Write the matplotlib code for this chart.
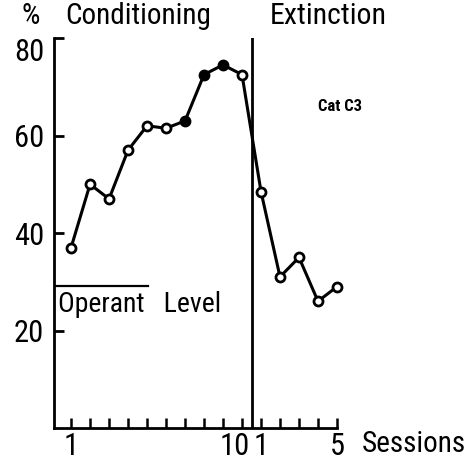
import numpy as np
import matplotlib
matplotlib.use("Agg")
import matplotlib.pyplot as plt
from matplotlib.transforms import ScaledTranslation

# Daten: Konditionierung (10 Sitzungen) und Extinktion (5 Sitzungen)
cond_sessions = np.arange(1, 11)
cond_pct = [37, 50, 47, 57, 62, 61.5, 63, 72.5, 74.5, 72.5]
cond_filled = [False, False, False, False, False, False, True, True, True, False]
ext_sessions = np.arange(1, 6)
ext_pct = [48.5, 31, 35, 26, 29]
operant_level = 29.2
yticks = [20, 40, 60, 80]

plt.rcParams['font.family'] = ['Roboto Condensed', 'DejaVu Sans']

fig = plt.figure(figsize=(4.7, 4.67), dpi=100)
ax = fig.add_axes([0.115, 0.0835, 0.602, 0.835])

# Extinktion hinter der Konditionierung auf einer Achse
ext_x = ext_sessions + 10
all_x = np.concatenate([cond_sessions, ext_x])
all_y = cond_pct + ext_pct
filled = cond_filled + [False] * len(ext_pct)

ax.plot(all_x, all_y, color='black', lw=2.2, zorder=3, clip_on=False)
for x, y, f in zip(all_x, all_y, filled):
    ax.plot(x, y, 'o', ms=6.5, mew=2, mec='black',
            mfc='black' if f else 'white', zorder=4, clip_on=False)

ax.axvline(10.5, color='black', lw=2)

ax.plot([0.1, 5.05], [operant_level, operant_level], color='black', lw=1.6)
ax.text(0.3, 25.3, 'Operant   Level', fontsize=20, va='center', ha='left')

ax.set_xlim(0.105, 15)
ax.set_ylim(0, 80)

ax.spines['top'].set_visible(False)
ax.spines['right'].set_visible(False)
ax.spines['left'].set_linewidth(2)
ax.spines['bottom'].set_linewidth(2)

ax.set_yticks(yticks)
ax.set_yticklabels([str(v) for v in yticks], fontsize=22)
ax.tick_params(axis='y', direction='in', length=7, width=2, pad=7)
ax.get_yticklabels()[-1].set_va('top')

ax.set_xticks(all_x)
labels = [''] * len(all_x)
labels[0] = '1'
labels[9] = '10'
labels[10] = '1'
labels[14] = '5'
ax.set_xticklabels(labels, fontsize=22)
ax.tick_params(axis='x', direction='in', length=7, width=1.8, pad=3)
lab10 = ax.get_xticklabels()[9]
lab10.set_transform(lab10.get_transform() + ScaledTranslation(-5 / 72, 0, fig.dpi_scale_trans))

ax.text(-1.1, 84.5, '%', fontsize=21, ha='center', va='center', clip_on=False)
ax.text(0.68, 84.5, 'Conditioning', fontsize=21, ha='left', va='center', clip_on=False)
ax.text(11.47, 84.5, 'Extinction', fontsize=21.5, ha='left', va='center', clip_on=False)
ax.text(14.0, 66, 'Cat C3', fontsize=12, fontweight='bold', ha='left', va='center')
ax.text(16.3, -3.2, 'Sessions', fontsize=21, ha='left', va='center', clip_on=False)

fig.savefig('out.png', dpi=100)
